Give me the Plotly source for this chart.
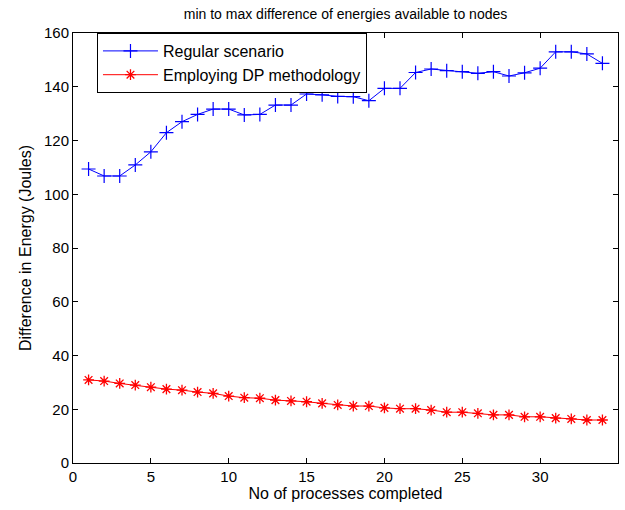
import plotly.graph_objects as go

x = list(range(1, 35))
regular = [109.4, 106.8, 106.8, 110.9, 115.8, 122.9, 127.0, 129.7, 131.7, 131.7,
           129.5, 129.7, 133.2, 133.2, 137.3, 137.0, 136.4, 136.3, 134.8, 139.4,
           139.4, 145.3, 146.6, 146.0, 145.6, 145.0, 145.6, 144.0, 145.2, 146.9,
           153.0, 153.0, 152.2, 148.7]
dp = [30.9, 30.5, 29.6, 29.0, 28.2, 27.5, 27.1, 26.4, 25.9, 24.9,
      24.3, 24.1, 23.4, 23.1, 22.8, 22.2, 21.6, 21.2, 21.2, 20.5,
      20.2, 20.2, 19.7, 18.9, 18.9, 18.5, 17.9, 17.9, 17.2, 17.2,
      16.7, 16.4, 16.0, 16.0]

title = "min to max difference of energies available to nodes"
xlabel = "No of processes completed"
ylabel = "Difference in Energy (Joules)"

fig = go.Figure()
fig.add_trace(go.Scatter(
    x=x, y=regular, mode="lines+markers", name="Regular scenario",
    line=dict(color="#0000ff", width=1),
    marker=dict(symbol="cross-thin", size=10, line=dict(color="#0000ff", width=1.2)),
))
fig.add_trace(go.Scatter(
    x=x, y=dp, mode="lines+markers", name="Employing DP methodology",
    line=dict(color="#ff0000", width=1),
    marker=dict(symbol="asterisk-open", size=9, line=dict(color="#ff0000", width=1.3)),
))

axis_common = dict(
    showgrid=False, zeroline=False, ticks="inside", ticklen=5, tickcolor="black",
    showline=True, linecolor="black", linewidth=1, mirror="ticks",
    tickfont=dict(size=15, color="black"),
)
fig.update_xaxes(range=[0, 35], dtick=5, tick0=0,
                 title=dict(text=xlabel, font=dict(size=16, color="black"), standoff=3),
                 **axis_common)
fig.update_yaxes(range=[0, 160], dtick=20, tick0=0,
                 title=dict(text=ylabel, font=dict(size=16, color="black"), standoff=8),
                 **axis_common)

fig.update_layout(
    width=625, height=510,
    margin=dict(l=73, r=7, t=33, b=47),
    paper_bgcolor="white", plot_bgcolor="white",
    font=dict(family="Liberation Sans, Arial, sans-serif", color="black"),
    title=dict(text=title, x=0.5, xanchor="center", y=0.972, yanchor="middle",
               font=dict(size=14, color="black"), xref="paper"),
    legend=dict(x=0.044, y=1.0, xanchor="left", yanchor="top",
                bordercolor="black", borderwidth=1, bgcolor="white",
                font=dict(size=16, color="black"), tracegroupgap=0,
                itemwidth=55),
    showlegend=True,
)

fig.write_html("out.html")
